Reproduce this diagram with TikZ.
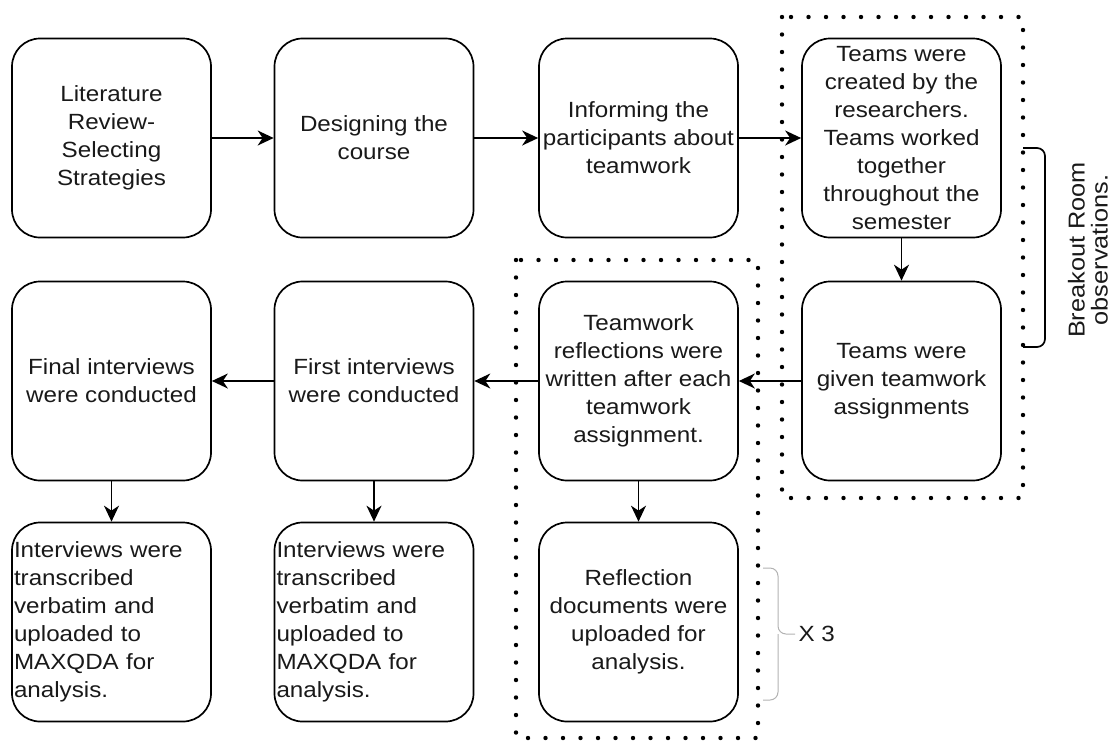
\documentclass[tikz,border=0pt]{standalone}
\usepackage{fontspec}
\setmainfont{Liberation Sans}[FakeStretch=1.1]
\usetikzlibrary{arrows.meta}

\tikzset{
  stage/.style={draw, rounded corners=28pt, line width=1.7pt, minimum width=199pt,
    minimum height=199pt, align=center, inner sep=2pt,
    font=\fontsize{22}{28}\selectfont, text=black!90},
  stageleft/.style={stage, align=left, text width=195pt, inner xsep=2pt},
  flow/.style={line width=1.7pt, -{Stealth[length=16pt,width=15pt,inset=5pt]}},
  group/.style={line width=4.4pt, line cap=round, dash pattern=on 0pt off 17.5pt},
}

\begin{document}
\begin{tikzpicture}[x=1pt,y=-1pt]
    \useasboundingbox (0,0) rectangle (1114,740);
    \draw[group] (782,17) rectangle (1023,498);
    \draw[group] (516,260) rectangle (758,738);
    % first row
    \node[stage] (11) at (111.5,138) {Literature\\Review-\\Selecting\\Strategies};
    \node[stage] (12) at (374,138) {Designing the\\course};
    \node[stage] (13) at (638.5,138) {Informing the\\participants about\\teamwork};
    \node[stage] (14) at (901.5,138) {Teams were\\created by the\\researchers.\\Teams worked\\together\\throughout the\\semester};
    % second row
    \node[stage] (24) at (901.5,381) {Teams were\\given teamwork\\assignments};
    \node[stage] (23) at (638.5,381) {Teamwork\\reflections were\\written after each\\teamwork\\assignment.};
    \node[stage] (22) at (374,381) {First interviews\\were conducted};
    \node[stage] (21) at (111.5,381) {Final interviews\\were conducted};
    % third row
    \node[stageleft] (31) at (111.5,622) {Interviews were\\transcribed\\verbatim and\\uploaded to\\MAXQDA for\\analysis.};
    \node[stageleft] (32) at (374,622) {Interviews were\\transcribed\\verbatim and\\uploaded to\\MAXQDA for\\analysis.};
    \node[stage] (33) at (638.5,622) {Reflection\\documents were\\uploaded for\\analysis.};
    \draw[flow] (11) -- (12);
    \draw[flow] (12) -- (13);
    \draw[flow] (13) -- (14);
    \draw[flow] (14) -- (24);
    \draw[flow] (24) -- (23);
    \draw[flow] (23) -- (22);
    \draw[flow] (22) -- (21);
    \draw[flow] (21) -- (31);
    \draw[flow] (22) -- (32);
    \draw[flow] (23) -- (33);
    % side notes
    \draw[line width=1.7pt, rounded corners=8pt] (1023,148) -- (1045,148) -- (1045,347) -- (1023,347);
    \node[rotate=90, align=center, font=\fontsize{23}{23}\selectfont, text=black!90] (obs) at (1088,250) {Breakout Room\\observations.};
    \draw[black!30, line width=1pt, rounded corners=8pt] (763,568) -- (778,568) -- (778,634) -- (795,634);
    \draw[black!30, line width=1pt, rounded corners=8pt] (763,700) -- (778,700) -- (778,634);
    \node[anchor=west, font=\fontsize{22}{28}\selectfont, text=black!90] (rep) at (795,634) {X 3};
\end{tikzpicture}
\end{document}
